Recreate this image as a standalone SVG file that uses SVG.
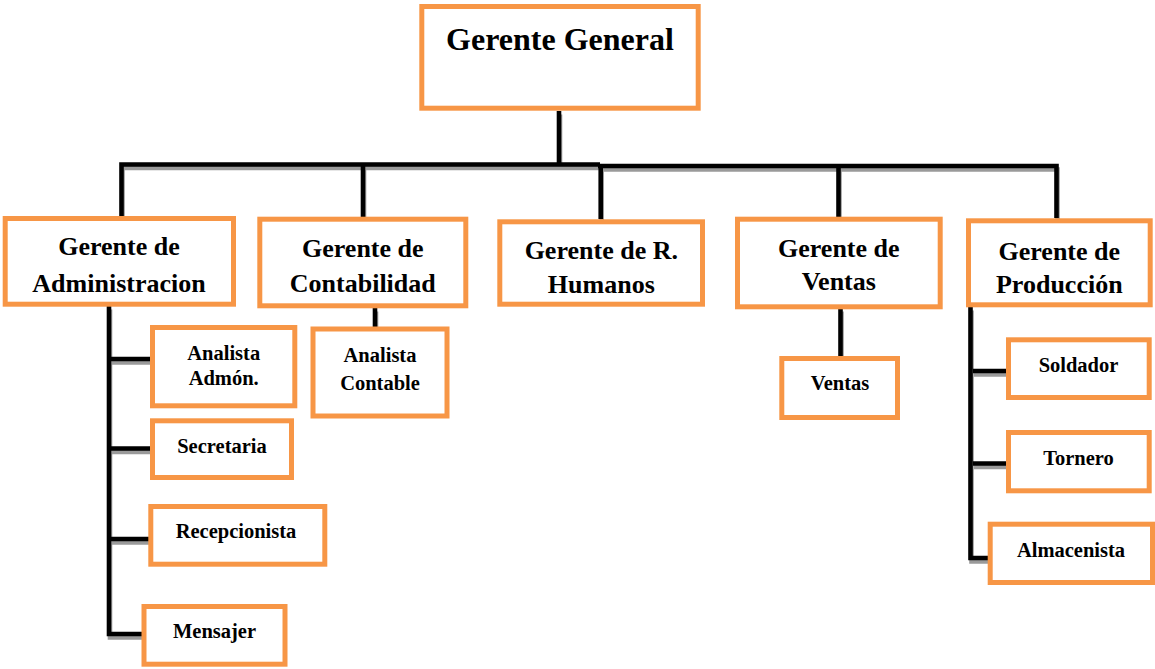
<svg xmlns="http://www.w3.org/2000/svg" xmlns:xlink="http://www.w3.org/1999/xlink" width="1155" height="669" viewBox="0 0 1155 669">
<style>
.box{fill:#fff;stroke:#F79646;stroke-width:5}
.ln{fill:none;stroke:#000;stroke-width:4.6;stroke-linejoin:miter}
.sh{fill:none;stroke:#9a9a9a;stroke-width:4.6}
text{font-family:"Liberation Serif","Times New Roman",serif;font-weight:bold;text-anchor:middle;fill:#000}
.t1{font-size:32px}
.t2{font-size:26px}
.t3{font-size:20.5px}
</style>
<defs>
<g id="conn">
<path d="M559,111 V164.5"/>
<path d="M121.5,216 V164.5 H600"/>
<path d="M598,166 H1056.5 V218"/>
<path d="M363,164.5 V217"/>
<path d="M600.7,166 V219"/>
<path d="M838.5,166 V217"/>
<path d="M109,306 V634 H143"/>
<path d="M109,359 H151"/>
<path d="M109,448.5 H151"/>
<path d="M109,539 H149"/>
<path d="M375,308 V328"/>
<path d="M840.5,308 V357"/>
<path d="M970.5,307 V558 H988"/>
<path d="M973,371 H1007"/>
<path d="M973,463.5 H1007"/>
</g>
</defs>
<g id="connectors">
<use xlink:href="#conn" href="#conn" class="sh" transform="translate(1,3.5)"/>
<use xlink:href="#conn" href="#conn" class="ln"/>
</g>
<g id="gerente-general">
<rect class="box" x="421.8" y="6.5" width="276.4" height="101.7"/>
<text class="t1" x="560" y="50">Gerente General</text>
</g>
<g id="gerente-administracion">
<rect class="box" x="5.2" y="218.5" width="228.3" height="85.7"/>
<text class="t2" x="119" y="255">Gerente de</text>
<text class="t2" x="119" y="291.5">Administracion</text>
</g>
<g id="gerente-contabilidad">
<rect class="box" x="259.8" y="219.2" width="206" height="86.6"/>
<text class="t2" x="362.8" y="256.7">Gerente de</text>
<text class="t2" x="362.8" y="291.7">Contabilidad</text>
</g>
<g id="gerente-rhumanos">
<rect class="box" x="499.8" y="221.8" width="202.7" height="82.4"/>
<text class="t2" x="601.3" y="259.3">Gerente de R.</text>
<text class="t2" x="601.3" y="293.3">Humanos</text>
</g>
<g id="gerente-ventas">
<rect class="box" x="737.5" y="219.2" width="202.7" height="87.6"/>
<text class="t2" x="838.8" y="256.7">Gerente de</text>
<text class="t2" x="838.8" y="290">Ventas</text>
</g>
<g id="gerente-produccion">
<rect class="box" x="968.5" y="220.8" width="181.7" height="84"/>
<text class="t2" x="1059.3" y="260">Gerente de</text>
<text class="t2" x="1059.3" y="293.3">Producción</text>
</g>
<g id="analista-admon">
<rect class="box" x="152.5" y="327.5" width="142.3" height="78.3"/>
<text class="t3" x="223.7" y="360">Analista</text>
<text class="t3" x="223.7" y="385">Admón.</text>
</g>
<g id="secretaria">
<rect class="box" x="152.5" y="420.8" width="139" height="56.7"/>
<text class="t3" x="222" y="452.7">Secretaria</text>
</g>
<g id="recepcionista">
<rect class="box" x="150.8" y="506.5" width="174" height="57.7"/>
<text class="t3" x="236" y="538.3">Recepcionista</text>
</g>
<g id="mensajer">
<rect class="box" x="144" y="606.5" width="141" height="57.7"/>
<text class="t3" x="214.5" y="638.3">Mensajer</text>
</g>
<g id="analista-contable">
<rect class="box" x="313" y="329" width="134" height="87"/>
<text class="t3" x="380" y="361.7">Analista</text>
<text class="t3" x="380" y="390">Contable</text>
</g>
<g id="ventas">
<rect class="box" x="781.8" y="358.5" width="115.7" height="59"/>
<text class="t3" x="840" y="390">Ventas</text>
</g>
<g id="soldador">
<rect class="box" x="1008.5" y="339.8" width="140.7" height="57.7"/>
<text class="t3" x="1078.5" y="371.7">Soldador</text>
</g>
<g id="tornero">
<rect class="box" x="1008.5" y="432.5" width="140.7" height="58.3"/>
<text class="t3" x="1078.5" y="465">Tornero</text>
</g>
<g id="almacenista">
<rect class="box" x="990.2" y="524.2" width="162.3" height="58.3"/>
<text class="t3" x="1071" y="556.7">Almacenista</text>
</g>
</svg>
